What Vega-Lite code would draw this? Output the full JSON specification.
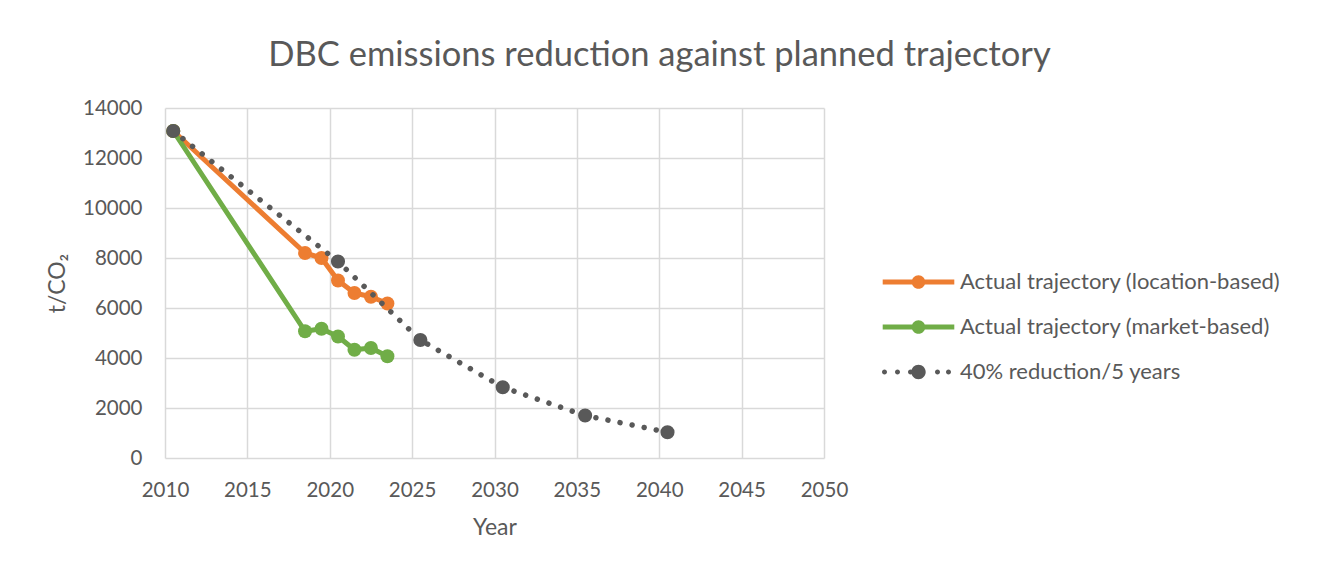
{
  "$schema": "https://vega.github.io/schema/vega-lite/v6.json",
  "width": 659,
  "height": 350,
  "autosize": {"type": "none"},
  "padding": {"left": 165, "top": 108, "right": 493, "bottom": 112},
  "background": "white",
  "title": {
    "text": "DBC emissions reduction against planned trajectory",
    "font": "Lato",
    "fontSize": 34.5,
    "fontWeight": "normal",
    "color": "#595959",
    "anchor": "middle",
    "frame": "group",
    "dx": 165,
    "baseline": "alphabetic",
    "offset": -2
  },
  "data": {
    "values": [
      {"year": 2010.5, "value": 13080, "series": "Actual trajectory (location-based)"},
      {"year": 2018.5, "value": 8200, "series": "Actual trajectory (location-based)"},
      {"year": 2019.5, "value": 8000, "series": "Actual trajectory (location-based)"},
      {"year": 2020.5, "value": 7100, "series": "Actual trajectory (location-based)"},
      {"year": 2021.5, "value": 6600, "series": "Actual trajectory (location-based)"},
      {"year": 2022.5, "value": 6450, "series": "Actual trajectory (location-based)"},
      {"year": 2023.5, "value": 6180, "series": "Actual trajectory (location-based)"},
      {"year": 2010.5, "value": 13080, "series": "Actual trajectory (market-based)"},
      {"year": 2018.5, "value": 5070, "series": "Actual trajectory (market-based)"},
      {"year": 2019.5, "value": 5170, "series": "Actual trajectory (market-based)"},
      {"year": 2020.5, "value": 4860, "series": "Actual trajectory (market-based)"},
      {"year": 2021.5, "value": 4330, "series": "Actual trajectory (market-based)"},
      {"year": 2022.5, "value": 4400, "series": "Actual trajectory (market-based)"},
      {"year": 2023.5, "value": 4070, "series": "Actual trajectory (market-based)"},
      {"year": 2010.5, "value": 13080, "series": "40% reduction/5 years"},
      {"year": 2020.5, "value": 7860, "series": "40% reduction/5 years"},
      {"year": 2025.5, "value": 4720, "series": "40% reduction/5 years"},
      {"year": 2030.5, "value": 2830, "series": "40% reduction/5 years"},
      {"year": 2035.5, "value": 1700, "series": "40% reduction/5 years"},
      {"year": 2040.5, "value": 1030, "series": "40% reduction/5 years"}
    ]
  },
  "encoding": {
    "x": {
      "field": "year",
      "type": "quantitative",
      "scale": {"domain": [2010, 2050], "nice": false, "zero": false},
      "axis": {
        "title": "Year",
        "values": [2010, 2015, 2020, 2025, 2030, 2035, 2040, 2045, 2050],
        "format": "d",
        "labelFlush": false,
        "labelBound": false,
        "labelOverlap": false,
        "labelPadding": 22,
        "titlePadding": 16
      }
    },
    "y": {
      "field": "value",
      "type": "quantitative",
      "scale": {"domain": [0, 14000], "nice": false},
      "axis": {
        "title": "t/CO₂",
        "values": [0, 2000, 4000, 6000, 8000, 10000, 12000, 14000],
        "format": "d",
        "labelFlush": false,
        "labelOverlap": false,
        "labelPadding": 23,
        "titlePadding": 13
      }
    },
    "color": {
      "field": "series",
      "type": "nominal",
      "scale": {
        "domain": ["Actual trajectory (location-based)", "Actual trajectory (market-based)", "40% reduction/5 years"],
        "range": ["#ED7D31", "#70AD47", "#595959"]
      },
      "legend": {
        "title": null,
        "orient": "none",
        "legendX": 742.5,
        "legendY": 163,
        "padding": 0,
        "symbolSize": 400,
        "rowPadding": 23,
        "labelOffset": 30.5,
        "labelFont": "Lato",
        "labelFontSize": 22,
        "labelColor": "#595959",
        "labelLimit": 500,
        "encode": {
          "symbols": {
            "update": {
              "shape": {"signal": "datum.value === '40% reduction/5 years' ? 'M-3.15,0A0.25,0.25 0 1,1 -3.65,0A0.25,0.25 0 1,1 -3.15,0Z M-1.85,0A0.25,0.25 0 1,1 -2.35,0A0.25,0.25 0 1,1 -1.85,0Z M-0.55,0A0.25,0.25 0 1,1 -1.05,0A0.25,0.25 0 1,1 -0.55,0Z M0.72,0A0.72,0.72 0 1,1 -0.72,0A0.72,0.72 0 1,1 0.72,0Z M2.15,0A0.25,0.25 0 1,1 1.65,0A0.25,0.25 0 1,1 2.15,0Z M3.25,0A0.25,0.25 0 1,1 2.75,0A0.25,0.25 0 1,1 3.25,0Z' : 'M-3.58,-0.25L3.58,-0.25L3.58,0.25L-3.58,0.25Z M0.68,0A0.68,0.68 0 1,1 -0.68,0A0.68,0.68 0 1,1 0.68,0Z'"},
              "fill": {"scale": "color", "field": "value"},
              "stroke": {"value": "transparent"},
              "strokeWidth": {"value": 0},
              "opacity": {"value": 1}
            }
          }
        }
      }
    }
  },
  "layer": [
    {
      "transform": [{"filter": "datum.series !== '40% reduction/5 years'"}],
      "mark": {"type": "line", "strokeWidth": 5, "strokeCap": "round", "strokeJoin": "round"}
    },
    {
      "transform": [{"filter": "datum.series !== '40% reduction/5 years'"}],
      "mark": {"type": "point", "filled": true, "size": 195, "opacity": 1, "shape": "circle"}
    },
    {
      "transform": [{"filter": "datum.series === '40% reduction/5 years'"}],
      "mark": {"type": "line", "strokeWidth": 5.5, "strokeCap": "round", "strokeDash": [0.01, 12.3]}
    },
    {
      "transform": [{"filter": "datum.series === '40% reduction/5 years'"}],
      "mark": {"type": "point", "filled": true, "size": 200, "opacity": 1, "shape": "circle"}
    }
  ],
  "config": {
    "view": {"stroke": null},
    "font": "Lato",
    "axis": {
      "grid": true,
      "gridColor": "#D9D9D9",
      "gridWidth": 1.5,
      "domain": false,
      "ticks": false,
      "labelFont": "Lato",
      "labelFontSize": 20.5,
      "labelColor": "#595959",
      "titleFont": "Lato",
      "titleFontSize": 23,
      "titleFontWeight": "normal",
      "titleColor": "#595959"
    }
  }
}
